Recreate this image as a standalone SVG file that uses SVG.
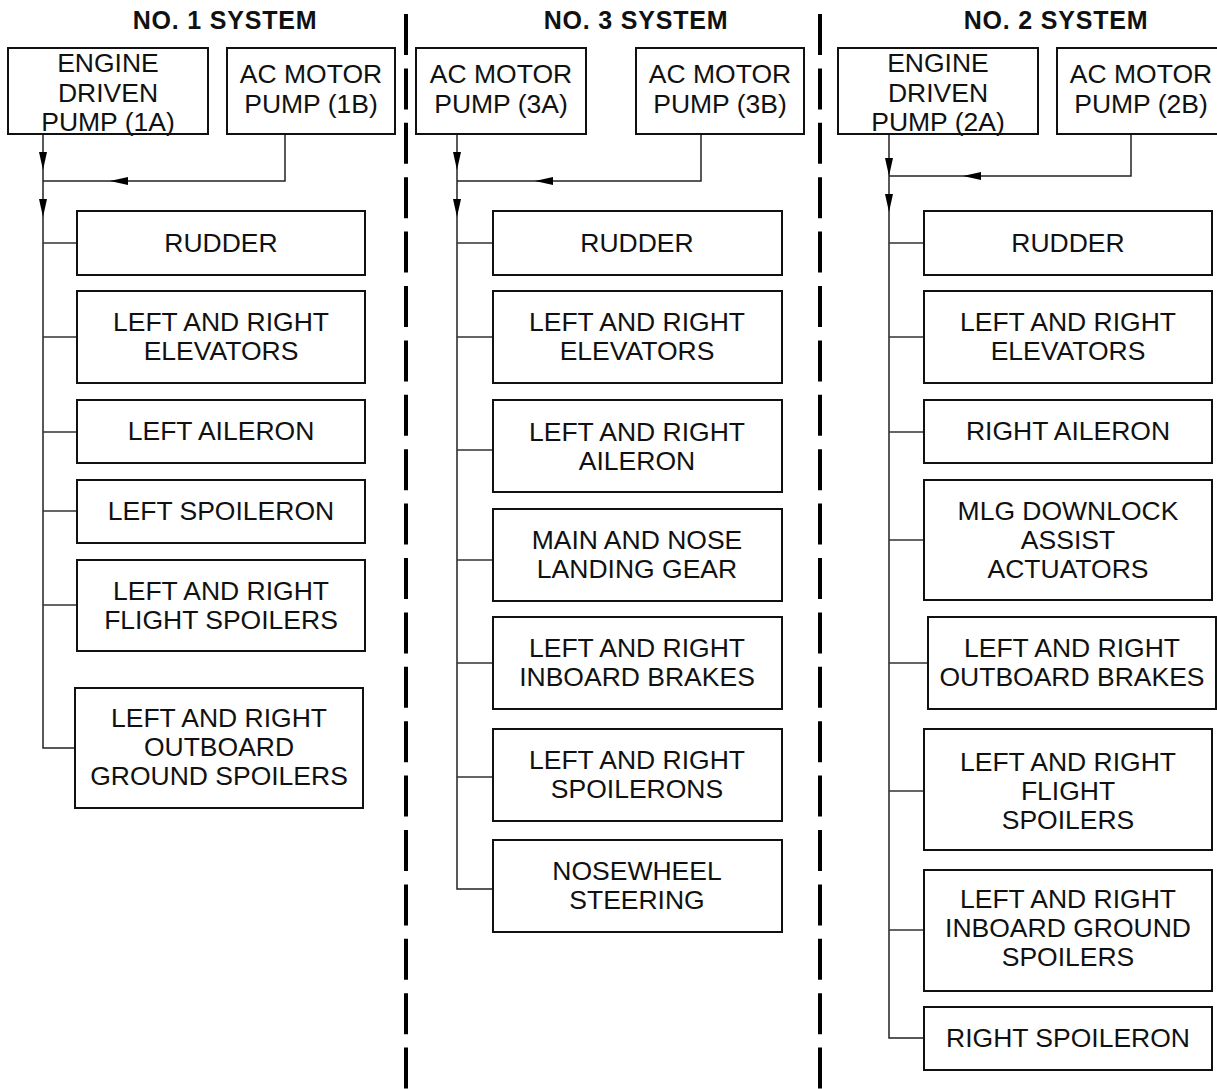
<svg xmlns="http://www.w3.org/2000/svg" width="1217" height="1089" viewBox="0 0 1217 1089">
<style>
.bg{fill:#fff}
.box{fill:#fff;stroke:#111;stroke-width:2}
.lbl{font-family:"Liberation Sans",Arial,Helvetica,sans-serif;font-size:26.5px;text-anchor:middle;fill:#111}
.ttl{font-family:"Liberation Sans",Arial,Helvetica,sans-serif;font-size:25px;font-weight:bold;text-anchor:middle;fill:#111;letter-spacing:0.8px}
.wire{fill:none;stroke:#222;stroke-width:1.5}
.br{fill:none;stroke:#333;stroke-width:1.3}
.div{fill:none;stroke:#000;stroke-width:4;stroke-dasharray:41 13.4}
</style>
<defs>
<marker id="arr" markerUnits="userSpaceOnUse" markerWidth="18" markerHeight="9" refX="18" refY="4.5" orient="auto">
<path d="M0,0.5 L18,4.5 L0,8.5 z" fill="#000"/>
</marker>
</defs>
<rect class="bg" x="0" y="0" width="1217" height="1089"/>

<g id="dividers">
<path class="div" d="M406,14 V1089"/>
<path class="div" d="M820,14 V1089"/>
</g>

<g id="titles">
<text class="ttl" x="225" y="29">NO. 1 SYSTEM</text>
<text class="ttl" x="636" y="29">NO. 3 SYSTEM</text>
<text class="ttl" x="1056" y="29">NO. 2 SYSTEM</text>
</g>

<g id="connectors">
<!-- system 1 -->
<path class="wire" d="M43,134 V170" marker-end="url(#arr)"/>
<path class="wire" d="M285,134 V181 H110" marker-end="url(#arr)"/>
<path class="wire" d="M110,181 H43"/>
<path class="wire" d="M43,170 V217" marker-end="url(#arr)"/>
<path class="wire" d="M43,217 V748 H75"/>
<path class="br" d="M43,243 H77 M43,337 H77 M43,432 H77 M43,511 H77 M43,605 H77"/>
<!-- system 3 -->
<path class="wire" d="M457,134 V170" marker-end="url(#arr)"/>
<path class="wire" d="M701,134 V181 H535" marker-end="url(#arr)"/>
<path class="wire" d="M535,181 H457"/>
<path class="wire" d="M457,170 V217" marker-end="url(#arr)"/>
<path class="wire" d="M457,217 V889 H493"/>
<path class="br" d="M457,243 H493 M457,337 H493 M457,450 H493 M457,560 H493 M457,663 H493 M457,777 H493"/>
<!-- system 2 -->
<path class="wire" d="M889,134 V176" marker-end="url(#arr)"/>
<path class="wire" d="M1131,134 V176 H963" marker-end="url(#arr)"/>
<path class="wire" d="M963,176 H889"/>
<path class="wire" d="M889,176 V212" marker-end="url(#arr)"/>
<path class="wire" d="M889,212 V1038 H924"/>
<path class="br" d="M889,243 H924 M889,337 H924 M889,432 H924 M889,540 H924 M889,663 H928 M889,791 H924 M889,930 H924"/>
</g>

<!-- SYSTEM 1 nodes -->
<g id="pump1A"><rect class="box" x="8" y="48" width="200" height="86"/>
<text class="lbl" x="108" y="72">ENGINE</text><text class="lbl" x="108" y="102">DRIVEN</text><text class="lbl" x="108" y="131">PUMP (1A)</text></g>
<g id="pump1B"><rect class="box" x="227" y="48" width="168" height="86"/>
<text class="lbl" x="311" y="83">AC MOTOR</text><text class="lbl" x="311" y="113">PUMP (1B)</text></g>
<g id="s1-rudder"><rect class="box" x="77" y="211" width="288" height="64"/>
<text class="lbl" x="221" y="252">RUDDER</text></g>
<g id="s1-elevators"><rect class="box" x="77" y="291" width="288" height="92"/>
<text class="lbl" x="221" y="331">LEFT AND RIGHT</text><text class="lbl" x="221" y="360">ELEVATORS</text></g>
<g id="s1-aileron"><rect class="box" x="77" y="400" width="288" height="63"/>
<text class="lbl" x="221" y="440">LEFT AILERON</text></g>
<g id="s1-spoileron"><rect class="box" x="77" y="480" width="288" height="63"/>
<text class="lbl" x="221" y="520">LEFT SPOILERON</text></g>
<g id="s1-flight"><rect class="box" x="77" y="560" width="288" height="91"/>
<text class="lbl" x="221" y="600">LEFT AND RIGHT</text><text class="lbl" x="221" y="629">FLIGHT SPOILERS</text></g>
<g id="s1-ground"><rect class="box" x="75" y="688" width="288" height="120"/>
<text class="lbl" x="219" y="727">LEFT AND RIGHT</text><text class="lbl" x="219" y="756">OUTBOARD</text><text class="lbl" x="219" y="785">GROUND SPOILERS</text></g>

<!-- SYSTEM 3 nodes -->
<g id="pump3A"><rect class="box" x="416" y="48" width="170" height="86"/>
<text class="lbl" x="501" y="83">AC MOTOR</text><text class="lbl" x="501" y="113">PUMP (3A)</text></g>
<g id="pump3B"><rect class="box" x="636" y="48" width="168" height="86"/>
<text class="lbl" x="720" y="83">AC MOTOR</text><text class="lbl" x="720" y="113">PUMP (3B)</text></g>
<g id="s3-rudder"><rect class="box" x="493" y="211" width="289" height="64"/>
<text class="lbl" x="637" y="252">RUDDER</text></g>
<g id="s3-elevators"><rect class="box" x="493" y="291" width="289" height="92"/>
<text class="lbl" x="637" y="331">LEFT AND RIGHT</text><text class="lbl" x="637" y="360">ELEVATORS</text></g>
<g id="s3-aileron"><rect class="box" x="493" y="400" width="289" height="92"/>
<text class="lbl" x="637" y="441">LEFT AND RIGHT</text><text class="lbl" x="637" y="470">AILERON</text></g>
<g id="s3-gear"><rect class="box" x="493" y="509" width="289" height="92"/>
<text class="lbl" x="637" y="549">MAIN AND NOSE</text><text class="lbl" x="637" y="578">LANDING GEAR</text></g>
<g id="s3-brakes"><rect class="box" x="493" y="617" width="289" height="92"/>
<text class="lbl" x="637" y="657">LEFT AND RIGHT</text><text class="lbl" x="637" y="686">INBOARD BRAKES</text></g>
<g id="s3-spoilerons"><rect class="box" x="493" y="729" width="289" height="92"/>
<text class="lbl" x="637" y="769">LEFT AND RIGHT</text><text class="lbl" x="637" y="798">SPOILERONS</text></g>
<g id="s3-steering"><rect class="box" x="493" y="840" width="289" height="92"/>
<text class="lbl" x="637" y="880">NOSEWHEEL</text><text class="lbl" x="637" y="909">STEERING</text></g>

<!-- SYSTEM 2 nodes -->
<g id="pump2A"><rect class="box" x="838" y="48" width="200" height="86"/>
<text class="lbl" x="938" y="72">ENGINE</text><text class="lbl" x="938" y="102">DRIVEN</text><text class="lbl" x="938" y="131">PUMP (2A)</text></g>
<g id="pump2B"><rect class="box" x="1057" y="48" width="170" height="86"/>
<text class="lbl" x="1141" y="83">AC MOTOR</text><text class="lbl" x="1141" y="113">PUMP (2B)</text></g>
<g id="s2-rudder"><rect class="box" x="924" y="211" width="288" height="64"/>
<text class="lbl" x="1068" y="252">RUDDER</text></g>
<g id="s2-elevators"><rect class="box" x="924" y="291" width="288" height="92"/>
<text class="lbl" x="1068" y="331">LEFT AND RIGHT</text><text class="lbl" x="1068" y="360">ELEVATORS</text></g>
<g id="s2-aileron"><rect class="box" x="924" y="400" width="288" height="63"/>
<text class="lbl" x="1068" y="440">RIGHT AILERON</text></g>
<g id="s2-mlg"><rect class="box" x="924" y="480" width="288" height="120"/>
<text class="lbl" x="1068" y="520">MLG DOWNLOCK</text><text class="lbl" x="1068" y="549">ASSIST</text><text class="lbl" x="1068" y="578">ACTUATORS</text></g>
<g id="s2-brakes"><rect class="box" x="928" y="617" width="288" height="92"/>
<text class="lbl" x="1072" y="657">LEFT AND RIGHT</text><text class="lbl" x="1072" y="686">OUTBOARD BRAKES</text></g>
<g id="s2-flight"><rect class="box" x="924" y="729" width="288" height="121"/>
<text class="lbl" x="1068" y="771">LEFT AND RIGHT</text><text class="lbl" x="1068" y="800">FLIGHT</text><text class="lbl" x="1068" y="829">SPOILERS</text></g>
<g id="s2-ground"><rect class="box" x="924" y="870" width="288" height="121"/>
<text class="lbl" x="1068" y="908">LEFT AND RIGHT</text><text class="lbl" x="1068" y="937">INBOARD GROUND</text><text class="lbl" x="1068" y="966">SPOILERS</text></g>
<g id="s2-spoileron"><rect class="box" x="924" y="1007" width="288" height="63"/>
<text class="lbl" x="1068" y="1047">RIGHT SPOILERON</text></g>
</svg>
